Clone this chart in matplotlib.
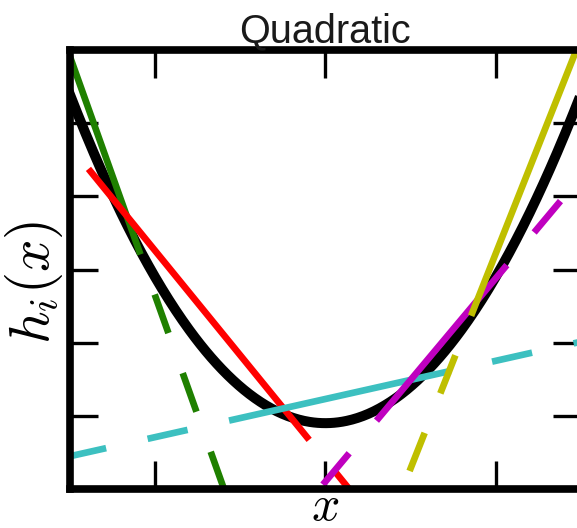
import matplotlib
matplotlib.use('Agg')
import matplotlib.pyplot as plt
import numpy as np

# Квадратичная функция h(x) = a*x^2 + c
quad_a = 0.5
quad_c = 0.9

# Линейные куски: наклон, сдвиг и отрезок, где линия сплошная
slopes = [-3.27, -1.43, 0.261, 1.39, 2.94]
intercepts = [-3.89, 0.40, 1.23, 0.10, -2.66]
solid_from = [-3.0, -2.78, -1.13, 0.60, 1.71]
solid_to = [-2.17, -0.19, 1.47, 2.13, 3.0]
colors = ['#1f8000', '#ff0000', '#3cc0c0', '#bf00bf', '#bfbf00']

x_ticks = [-2, 0, 2]
y_ticks = [1, 2, 3, 4, 5]

plt.rcParams['mathtext.fontset'] = 'cm'
plt.rcParams['lines.scale_dashes'] = False

dash_on, dash_off = 29.5, 30.6  # в пунктах

fig = plt.figure(figsize=(5.77, 5.28), dpi=100)
ax = fig.add_axes([69.7 / 577, 39 / 528, 511.3 / 577, 439 / 528])

# Сама парабола
xs = np.linspace(-3.2, 3.2, 400)
ax.plot(xs, quad_a * xs ** 2 + quad_c, color='black', lw=7.2, zorder=1)

# Линии: сплошной отрезок и штриховые продолжения в обе стороны
for k, b, lo, hi, col in zip(slopes, intercepts, solid_from, solid_to, colors):
    line = lambda x: k * np.asarray(x) + b
    dashed = dict(color=col, lw=4.8, zorder=2,
                  linestyle=(dash_on, (dash_on, dash_off)), dash_capstyle='butt')
    left = np.array([lo, -3.6])
    right = np.array([hi, 3.6])
    ax.plot(left, line(left), **dashed)
    ax.plot(right, line(right), **dashed)
    seg = np.array([lo, hi])
    ax.plot(seg, line(seg), color=col, lw=4.8, zorder=2, solid_capstyle='butt')

ax.set_xlim(-3, 3)
ax.set_ylim(0, 6)
ax.set_xticks(x_ticks)
ax.set_yticks(y_ticks)
ax.tick_params(direction='in', length=20, width=2.4, top=True, right=True,
               labelbottom=False, labelleft=False, color='black')
for sp in ax.spines.values():
    sp.set_linewidth(5.5)

ax.set_title('Quadratic', fontsize=28.5, pad=5.5, family='Liberation Sans',
             color='#1a1a1a')
ax.set_xlabel(r'$x$', fontsize=36, labelpad=-5)
ax.set_ylabel(r'$h_i(x)$', fontsize=41)
ax.yaxis.set_label_coords(-0.009, 0.47)

fig.savefig('out.png', dpi=100, facecolor='white')
